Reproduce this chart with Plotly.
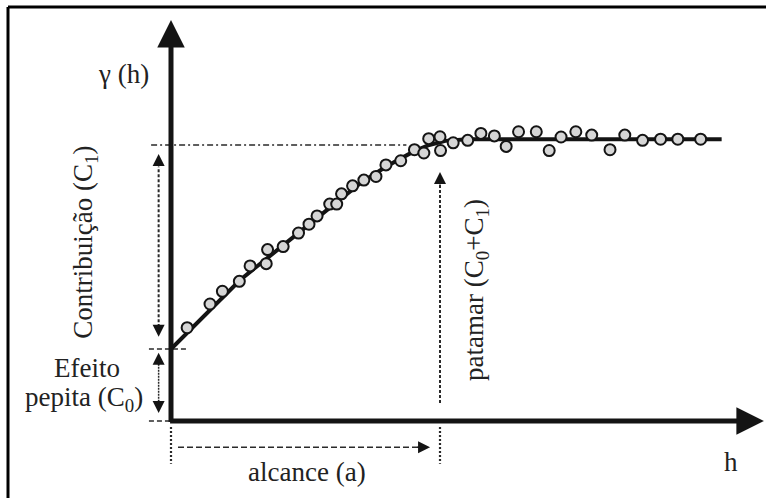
import plotly.graph_objects as go

# ---- data (units: h in range-units, gamma with sill = 10) ----
h_points = [0.60, 1.45, 1.91, 2.54, 2.94, 3.59, 3.54, 4.17, 4.74, 5.13, 5.43, 5.90, 6.16,
            6.34, 6.75, 7.17, 7.62, 7.99, 8.54, 9.05, 9.40, 9.58, 10.00, 10.02, 10.49,
            11.03, 11.52, 12.02, 12.46, 12.92, 13.58, 14.06, 14.50, 15.05, 15.64, 16.32,
            16.87, 17.53, 18.20, 18.84, 19.69]
gamma_points = [3.38, 4.24, 4.70, 5.06, 5.62, 6.21, 5.70, 6.32, 6.81, 7.13, 7.43, 7.86, 7.86,
                8.23, 8.52, 8.73, 8.86, 9.28, 9.43, 9.83, 9.71, 10.23, 10.30, 9.80, 10.08,
                10.17, 10.42, 10.33, 9.95, 10.48, 10.48, 9.80, 10.29, 10.48, 10.36, 9.83,
                10.36, 10.17, 10.21, 10.21, 10.21]

h_model = [0.0, 1.08, 2.57, 4.80, 7.03, 8.00, 9.01, 9.60, 10.20, 11.00, 20.47]
gamma_model = [2.61, 3.66, 5.11, 6.86, 8.61, 9.22, 9.76, 10.00, 10.15, 10.21, 10.21]

nugget = 2.61      # C0
sill = 10.0        # C0 + C1
range_a = 10.0     # a

# ---- geometry (data units) ----
X_MIN, X_MAX = -6.357, 22.119
Y_MIN, Y_MAX = -2.790, 15.254
X_TIP = 22.04
Y_TIP = 14.53

INK = "#141414"
DASH_INK = "#2a2a2a"
FONT = "Liberation Serif, DejaVu Serif, serif"

fig = go.Figure()

fig.add_trace(go.Scatter(x=h_model, y=gamma_model, mode="lines",
                         line=dict(color=INK, width=4), hoverinfo="skip"))
fig.add_trace(go.Scatter(x=h_points, y=gamma_points, mode="markers",
                         marker=dict(size=11, color="#d6d6d6",
                                     line=dict(color=INK, width=2)),
                         hoverinfo="skip"))

shapes = []


def seg(x0, y0, x1, y1, dash, width=1.6, color=DASH_INK):
    shapes.append(dict(type="line", xref="x", yref="y", x0=x0, y0=y0, x1=x1, y1=y1,
                       line=dict(color=color, width=width, dash=dash), layer="below"))


# guide lines
seg(-0.74, sill, 8.75, sill, "6px,3px,2px,3px", 1.5)          # sill
seg(-0.82, nugget, 0.56, nugget, "5px,3px", 1.6)               # nugget level
seg(-0.82, 0.0, 0.0, 0.0, "5px,3px", 1.6)                      # zero level
# contribution arrow shaft
seg(-0.46, 3.4, -0.46, 9.2, "3px,2px", 2.0)
# nugget arrow shaft
seg(-0.46, 0.7, -0.46, 2.1, "2px,1px", 1.5)
# sill (patamar) arrow shaft
seg(range_a, 0.65, range_a, 8.6, "3px,2px", 2.0)
# range markers
seg(0.0, -0.22, 0.0, -1.55, "2px,2px", 2.2)
seg(range_a, -0.22, range_a, -1.55, "2px,2px", 2.2)
# range arrow shaft
seg(0.26, -0.95, 9.2, -0.95, "6px,3px", 1.6)

# frame (top and left border)
shapes.append(dict(type="line", xref="paper", yref="paper", x0=8 / 766, y0=1 - 7 / 498,
                   x1=1.0, y1=1 - 7 / 498, line=dict(color="#000", width=3)))
shapes.append(dict(type="line", xref="paper", yref="paper", x0=8 / 766, y0=1 - 7 / 498,
                   x1=8 / 766, y1=0.0, line=dict(color="#000", width=3)))

annotations = []

# main axes as thick arrows
annotations.append(dict(x=X_TIP, y=0.0, ax=-0.09, ay=0.0, xref="x", yref="y",
                        axref="x", ayref="y", text="", showarrow=True, arrowhead=2,
                        arrowsize=1.1, arrowwidth=5, arrowcolor=INK, standoff=0))
annotations.append(dict(x=0.0, y=Y_TIP, ax=0.0, ay=-0.09, xref="x", yref="y",
                        axref="x", ayref="y", text="", showarrow=True, arrowhead=2,
                        arrowsize=1.1, arrowwidth=5, arrowcolor=INK, standoff=0))


def head(x, y, dx, dy):
    annotations.append(dict(x=x, y=y, ax=dx, ay=dy, xref="x", yref="y", text="",
                            showarrow=True, arrowhead=2, arrowsize=1.6, arrowwidth=1.5,
                            arrowcolor=INK, standoff=0))


head(-0.46, 9.67, 0, 14)     # contribution up
head(-0.46, 3.05, 0, -14)    # contribution down
head(-0.46, 2.47, 0, 14)     # nugget up
head(-0.46, 0.29, 0, -14)    # nugget down
head(range_a, 9.02, 0, 14)   # patamar up
head(9.63, -0.95, -14, 0)    # range right


def label(x, y, text, angle=0, size=27):
    annotations.append(dict(x=x, y=y, xref="x", yref="y", text=text, showarrow=False,
                            textangle=angle, xanchor="center", yanchor="middle",
                            font=dict(family=FONT, size=size, color="#222")))


label(-1.78, 12.57, "γ (h)")
label(-3.20, 6.49, "Contribuição (C<sub>1</sub>)", angle=-90)
label(-3.12, 1.92, "Efeito")
label(-3.22, 0.80, "pepita (C<sub>0</sub>)")
label(11.34, 4.75, "patamar (C<sub>0</sub>+C<sub>1</sub>)", angle=-90)
label(5.06, -1.85, "alcance (a)")
label(20.82, -1.49, "h")

fig.update_layout(
    width=766, height=498,
    margin=dict(l=0, r=0, t=0, b=0),
    paper_bgcolor="white", plot_bgcolor="white",
    font=dict(family=FONT, size=27, color="#222"),
    showlegend=False, hovermode=False,
    xaxis=dict(range=[X_MIN, X_MAX], visible=False, fixedrange=True),
    yaxis=dict(range=[Y_MIN, Y_MAX], visible=False, fixedrange=True),
    shapes=shapes, annotations=annotations,
)

fig.write_html("out.html",
               config={"displayModeBar": False, "staticPlot": True},
               post_script="document.body.style.margin='0px';"
                           "document.body.style.overflow='hidden';")
